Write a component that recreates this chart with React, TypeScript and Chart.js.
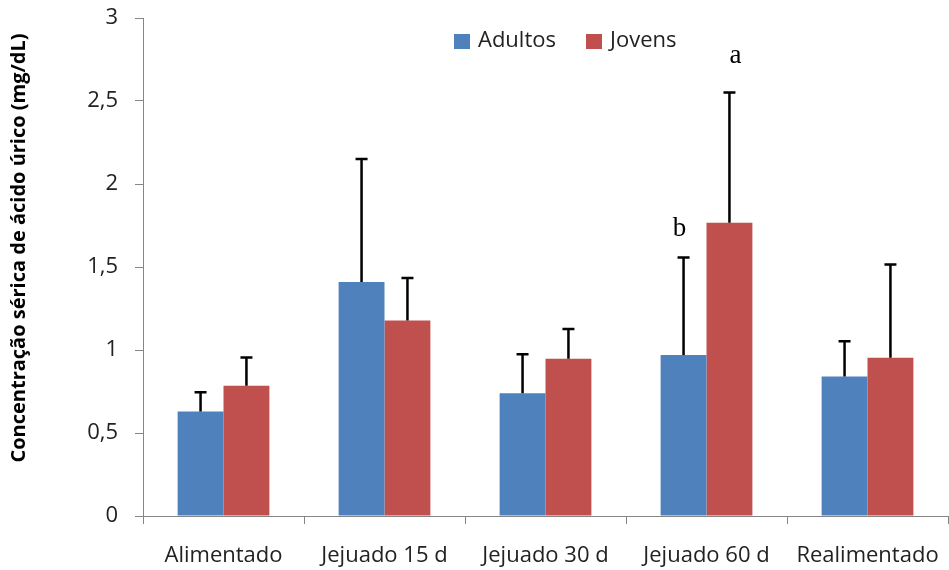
import React, { useEffect, useRef } from "react";
import { Chart, registerables } from "chart.js";

Chart.register(...registerables);

const categories = ["Alimentado", "Jejuado 15 d", "Jejuado 30 d", "Jejuado 60 d", "Realimentado"];
const adultos = [0.63, 1.41, 0.74, 0.97, 0.84];
const adultosSD = [0.115, 0.74, 0.235, 0.587, 0.213];
const jovens = [0.785, 1.178, 0.948, 1.766, 0.954];
const jovensSD = [0.17, 0.255, 0.178, 0.785, 0.561];
const yTicks = [0, 0.5, 1, 1.5, 2, 2.5, 3];
const letters = [
  { dataset: 0, index: 3, text: "b" },
  { dataset: 1, index: 3, text: "a" },
];
const yTitle = "Concentração sérica de ácido úrico (mg/dL)";
const BLUE = "#4F81BD";
const RED = "#C0504D";
const AXIS = "#868686";
const FONT = "'Open Sans', sans-serif";

const errs = [adultosSD, jovensSD];

const overlay = {
  id: "overlay",
  afterDatasetsDraw(chart: any) {
    const ctx = chart.ctx;
    const y = chart.scales.y;
    ctx.save();
    // error bars
    ctx.strokeStyle = "#000";
    ctx.lineWidth = 2.5;
    chart.data.datasets.forEach((ds: any, di: number) => {
      const meta = chart.getDatasetMeta(di);
      meta.data.forEach((bar: any, i: number) => {
        const top = y.getPixelForValue(ds.data[i] + errs[di][i]);
        ctx.beginPath();
        ctx.moveTo(bar.x, bar.y);
        ctx.lineTo(bar.x, top);
        ctx.moveTo(bar.x - 6, top);
        ctx.lineTo(bar.x + 6, top);
        ctx.stroke();
      });
    });
    // letters
    ctx.fillStyle = "#000";
    ctx.font = "27px 'Liberation Serif', serif";
    ctx.textAlign = "center";
    ctx.textBaseline = "alphabetic";
    letters.forEach((l) => {
      const bar = chart.getDatasetMeta(l.dataset).data[l.index];
      const ds = chart.data.datasets[l.dataset];
      const top = y.getPixelForValue(ds.data[l.index] + errs[l.dataset][l.index]);
      const dx = l.dataset === 0 ? -4 : 6;
      const dy = l.dataset === 0 ? 22 : 30;
      ctx.fillText(l.text, bar.x + dx, top - dy);
    });
    // legend
    ctx.font = "22px " + FONT;
    ctx.textAlign = "left";
    ctx.textBaseline = "middle";
    const items = [
      { label: "Adultos", color: BLUE, x: 454 },
      { label: "Jovens", color: RED, x: 586 },
    ];
    items.forEach((it) => {
      ctx.fillStyle = it.color;
      ctx.fillRect(it.x, 34, 16, 15);
      ctx.fillStyle = "#222";
      ctx.fillText(it.label, it.x + 24, 41);
    });
    // y title
    ctx.translate(19, 248);
    ctx.rotate(-Math.PI / 2);
    ctx.font = "bold 20px " + FONT;
    ctx.textAlign = "center";
    ctx.textBaseline = "middle";
    ctx.fillStyle = "#000";
    ctx.fillText(yTitle, 0, 0);
    ctx.restore();
  },
};

export default function App() {
  const ref = useRef<HTMLCanvasElement>(null);
  useEffect(() => {
    const chart = new Chart(ref.current!, {
      type: "bar",
      data: {
        labels: categories,
        datasets: [
          { label: "Adultos", data: adultos, backgroundColor: BLUE, categoryPercentage: 0.57, barPercentage: 1 },
          { label: "Jovens", data: jovens, backgroundColor: RED, categoryPercentage: 0.57, barPercentage: 1 },
        ],
      },
      options: {
        animation: false,
        responsive: false,
        layout: { padding: { left: 0, right: 1, top: 18, bottom: 0 } },
        plugins: { legend: { display: false }, tooltip: { enabled: false } },
        scales: {
          x: {
            grid: { offset: true, drawOnChartArea: false, drawTicks: true, tickLength: 8, color: AXIS },
            border: { display: true, color: AXIS, width: 1 },
            ticks: { color: "#222", font: { family: FONT, size: 22 }, padding: 19, maxRotation: 0, autoSkip: false },
            afterFit: (s: any) => { s.height = 54; s.paddingLeft = 0; s.paddingRight = 0; },
          },
          y: {
            min: 0,
            max: 3,
            afterBuildTicks: (s: any) => { s.ticks = yTicks.map((v) => ({ value: v })); },
            grid: { drawOnChartArea: false, drawTicks: true, tickLength: 8, color: AXIS },
            border: { display: true, color: AXIS, width: 1 },
            ticks: {
              color: "#222",
              font: { family: FONT, size: 22 },
              padding: 17,
              callback: (v: any) => String(v).replace(".", ","),
            },
            afterFit: (s: any) => { s.width = 143; s.paddingTop = 0; s.paddingBottom = 0; },
          },
        },
      },
      plugins: [overlay],
    });
    return () => chart.destroy();
  }, []);
  return (
    <div style={{ position: "fixed", left: 0, top: 0, width: 949, height: 570, background: "#fff" }}>
      <canvas ref={ref} width={949} height={570} />
    </div>
  );
}
